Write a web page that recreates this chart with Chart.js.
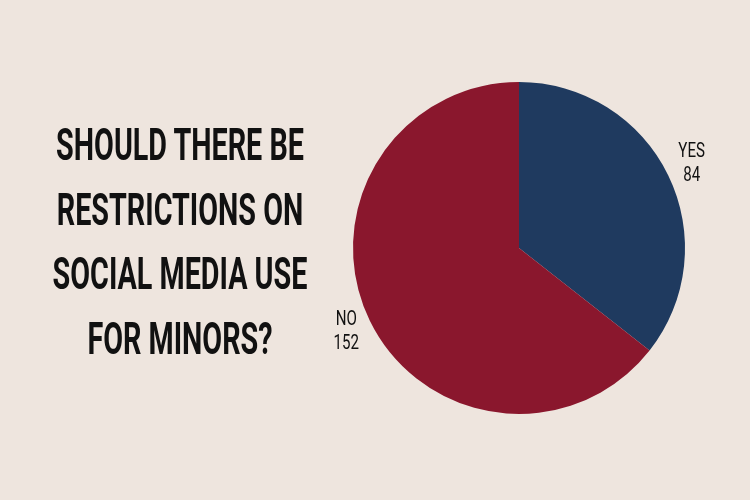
<!DOCTYPE html>
<html>
<head>
<meta charset="utf-8">
<script src="https://cdn.jsdelivr.net/npm/chart.js@4"></script>
<style>
    html, body {
        margin: 0;
        padding: 0;
        background: #eee5de;
    }
    #wrap {
        position: relative;
        width: 750px;
        height: 500px;
        overflow: hidden;
    }
    #title {
        position: absolute;
        left: -70px;
        top: 113px;
        width: 500px;
        text-align: center;
        font-family: Roboto, "DejaVu Sans", sans-serif;
        font-weight: 700;
        font-size: 44px;
        line-height: 64.5px;
        color: #111;
        transform: scaleX(0.653);
        transform-origin: 250px 0;
        white-space: nowrap;
    }
</style>
</head>
<body>
<div id="wrap">
    <div id="title">
        SHOULD THERE BE<br>
        RESTRICTIONS ON<br>
        SOCIAL MEDIA USE<br>
        FOR MINORS?
    </div>
    <canvas id="pie" width="750" height="500"></canvas>
</div>
<script>
const answers = ["YES", "NO"];
const counts = [84, 152];
const sliceColors = ["#1f3a5f", "#8a172d"];

// labels outside each slice: answer on one line, count below
const outsideLabels = {
    id: "outsideLabels",
    afterDatasetsDraw(chart) {
        const ctx = chart.ctx;
        const meta = chart.getDatasetMeta(0);
        ctx.save();
        ctx.fillStyle = "#111";
        ctx.font = "400 21px Roboto, sans-serif";
        ctx.textAlign = "center";
        ctx.textBaseline = "middle";
        meta.data.forEach((arc, i) => {
            const mid = (arc.startAngle + arc.endAngle) / 2;
            const r = arc.outerRadius + 26;
            const x = arc.x + Math.cos(mid) * r;
            const y = arc.y + Math.sin(mid) * r;
            const lines = [answers[i], String(counts[i])];
            lines.forEach((t, j) => {
                ctx.save();
                ctx.translate(x, y + (j - 0.5) * 24);
                ctx.scale(0.72, 1);
                ctx.fillText(t, 0, 0);
                ctx.restore();
            });
        });
        ctx.restore();
    }
};

new Chart(document.getElementById("pie"), {
    type: "pie",
    data: {
        labels: answers,
        datasets: [
            {
                data: counts,
                backgroundColor: sliceColors,
                borderWidth: 0
            }
        ]
    },
    options: {
        responsive: false,
        animation: false,
        layout: {
            padding: {
                left: 353,
                right: 65,
                top: 82,
                bottom: 86
            }
        },
        plugins: {
            legend: { display: false },
            tooltip: { enabled: false }
        }
    },
    plugins: [outsideLabels]
});
</script>
</body>
</html>
